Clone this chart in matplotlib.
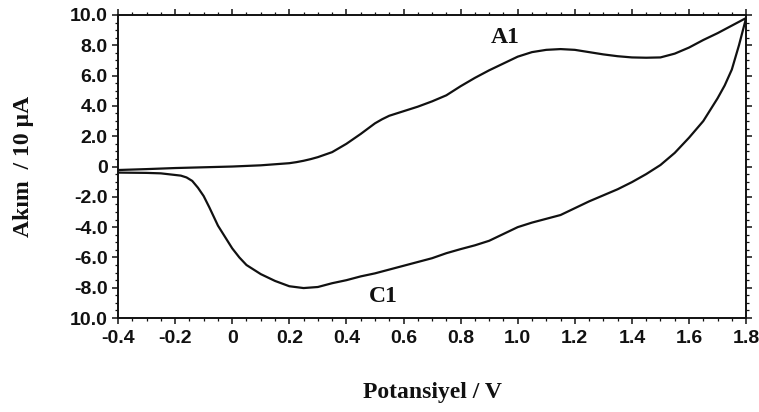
import matplotlib
matplotlib.use("Agg")
import matplotlib.pyplot as plt
from matplotlib.ticker import FixedLocator, FixedFormatter, MultipleLocator

# Forward (anodic) sweep
fwd_x = [-0.4, -0.3, -0.2, -0.1, 0.0, 0.1, 0.2, 0.225, 0.25, 0.275, 0.3, 0.35, 0.4, 0.45, 0.5,
         0.525, 0.55, 0.6, 0.65, 0.7, 0.75, 0.8, 0.85, 0.9, 0.95, 1.0, 1.05, 1.1, 1.15,
         1.2, 1.25, 1.3, 1.35, 1.4, 1.45, 1.5, 1.55, 1.6, 1.65, 1.7, 1.75, 1.8]
fwd_y = [-0.23, -0.17, -0.1, -0.05, 0.0, 0.08, 0.22, 0.29, 0.38, 0.49, 0.62, 0.95, 1.5, 2.15, 2.85,
         3.12, 3.35, 3.65, 3.95, 4.3, 4.7, 5.3, 5.85, 6.35, 6.8, 7.25, 7.55, 7.7, 7.75,
         7.7, 7.55, 7.4, 7.28, 7.2, 7.18, 7.2, 7.45, 7.85, 8.35, 8.8, 9.3, 9.8]

# Reverse (cathodic) sweep
rev_x = [1.8, 1.775, 1.75, 1.725, 1.7, 1.65, 1.6, 1.55, 1.5, 1.45, 1.4, 1.35, 1.3, 1.25, 1.2,
         1.15, 1.1, 1.05, 1.0, 0.95, 0.9, 0.85, 0.8, 0.75, 0.7, 0.65, 0.6, 0.55,
         0.5, 0.45, 0.4, 0.35, 0.3, 0.25, 0.2, 0.15, 0.1, 0.05, 0.025, 0.0, -0.02, -0.05, -0.08,
         -0.1, -0.12, -0.14, -0.16, -0.18, -0.25, -0.3, -0.4]
rev_y = [9.8, 8.0, 6.4, 5.35, 4.5, 3.0, 1.9, 0.9, 0.1, -0.5, -1.03, -1.5, -1.9, -2.3, -2.75,
         -3.2, -3.45, -3.7, -4.0, -4.45, -4.9, -5.2, -5.45, -5.72, -6.05, -6.3, -6.55, -6.8,
         -7.05, -7.25, -7.5, -7.7, -7.95, -8.02, -7.9, -7.55, -7.1, -6.5, -6.0, -5.4, -4.8, -3.9, -2.7,
         -1.95, -1.4, -0.95, -0.72, -0.6, -0.45, -0.42, -0.4]

x_ticks = [-0.4, -0.2, 0.0, 0.2, 0.4, 0.6, 0.8, 1.0, 1.2, 1.4, 1.6, 1.8]
x_labels = ["-0.4", "-0.2", "0", "0.2", "0.4", "0.6", "0.8", "1.0", "1.2", "1.4", "1.6", "1.8"]
y_ticks = [10, 8, 6, 4, 2, 0, -2, -4, -6, -8, -10]
y_labels = ["10.0", "8.0", "6.0", "4.0", "2.0", "0", "-2.0", "-4.0", "-6.0", "-8.0", "10.0"]

fig = plt.figure(figsize=(7.59, 4.12), dpi=100)
ax = fig.add_axes([0.1555, 0.228, 0.8275, 0.7356])

ax.plot(fwd_x + rev_x[1:], fwd_y + rev_y[1:], color="#111111", lw=1.6,
        solid_joinstyle="round")

ax.set_xlim(-0.4, 1.8)
ax.set_ylim(-10, 10)

ax.xaxis.set_major_locator(FixedLocator(x_ticks))
ax.xaxis.set_major_formatter(FixedFormatter(x_labels))
ax.xaxis.set_minor_locator(MultipleLocator(0.05))
ax.yaxis.set_major_locator(FixedLocator(y_ticks))
ax.yaxis.set_major_formatter(FixedFormatter(y_labels))
ax.yaxis.set_minor_locator(MultipleLocator(0.5))

for s in ax.spines.values():
    s.set_linewidth(1.4)
    s.set_color("#111111")

ax.tick_params(which="both", direction="out", top=True, right=True,
               labeltop=False, labelright=False, color="#111111", width=1.1)
ax.tick_params(which="major", length=4.5)
ax.tick_params(which="minor", length=2.5, width=0.9)
ax.tick_params(axis="x", which="major", pad=4)
ax.tick_params(axis="y", which="major", pad=3)

for lbl in ax.get_xticklabels() + ax.get_yticklabels():
    lbl.set_fontfamily("Liberation Sans")
    lbl.set_fontweight("bold")
    lbl.set_fontsize(14)
    lbl.set_color("#111111")

ax.set_xlabel("Potansiyel / V", fontfamily="Liberation Serif", fontweight="bold",
              fontsize=17, labelpad=25, color="#111111")
ax.set_ylabel("Akım  / 10 µA", fontfamily="Liberation Serif", fontweight="bold",
              fontsize=17, labelpad=26, color="#111111")

ax.text(0.955, 8.5, "A1", fontfamily="Liberation Serif", fontweight="bold",
        fontsize=17, ha="center", va="center", color="#111111")
ax.text(0.528, -8.55, "C1", fontfamily="Liberation Serif", fontweight="bold",
        fontsize=17, ha="center", va="center", color="#111111")

fig.savefig("out.png", dpi=100)
